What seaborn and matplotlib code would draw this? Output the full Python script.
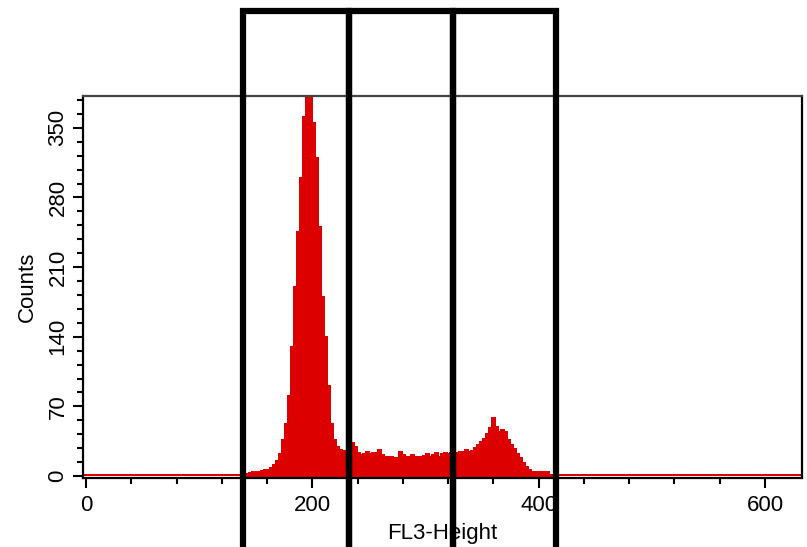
import numpy as np
import pandas as pd
import matplotlib
matplotlib.use('Agg')
import matplotlib.pyplot as plt
from matplotlib.patches import Rectangle
import seaborn as sns

# Histogram channels (FL3-Height)
channel_start = 138.7
channel_width = 2.65
counts = [1, 2, 3, 4, 4, 4, 5, 6, 6, 8,
          11, 15, 22, 36, 52, 80, 130, 190, 245, 300,
          361, 400, 395, 355, 320, 250, 180, 140, 90, 52,
          36, 29, 26, 25, 24, 28, 33, 29, 23, 21,
          22, 24, 22, 23, 23, 26, 21, 19, 19, 19,
          18, 18, 24, 21, 19, 19, 21, 19, 19, 19,
          20, 22, 19, 21, 23, 19, 22, 23, 22, 23,
          23, 23, 24, 24, 26, 24, 25, 28, 31, 34,
          37, 42, 48, 58, 49, 44, 46, 44, 36, 31,
          27, 22, 18, 13, 9, 6, 4, 4, 4, 4,
          4, 4, 1, 1, 1]

# Gate boundaries (three adjacent regions)
gate_edges = [138.7, 232.4, 324.3, 415.3]

x_ticks = [0, 200, 400, 600]
y_ticks = [0, 70, 140, 210, 280, 350]

n = len(counts)
channel_end = channel_start + channel_width * n
df = pd.DataFrame({'fl3': channel_start + channel_width * (np.arange(n) + 0.5),
                   'count': counts})

sns.set_style('ticks')
plt.rcParams['font.family'] = ['Liberation Sans', 'DejaVu Sans']
plt.rcParams['text.color'] = 'black'
plt.rcParams['axes.labelcolor'] = 'black'
plt.rcParams['xtick.color'] = 'black'
plt.rcParams['ytick.color'] = 'black'

fig = plt.figure(figsize=(8.07, 5.47), dpi=100)
ax = fig.add_axes([0.1029, 0.1261, 0.8909, 0.6984])

red = '#dc0000'
sns.histplot(data=df, x='fl3', weights='count', bins=n,
             binrange=(channel_start, channel_end), element='bars', shrink=1,
             fill=True, color=red, alpha=1, linewidth=1.2, edgecolor=red,
             antialiased=False, ax=ax)
ax.axhspan(-0.3, 1.6, color=red, lw=0)

ax.set_xlim(-2.7, 632.7)
ax.set_ylim(-2, 382)
ax.set_xticks(x_ticks)
ax.set_xticks(np.arange(0, 633, 40), minor=True)
ax.set_yticks(y_ticks)
ax.set_yticks(np.arange(0, 382, 14), minor=True)

ax.tick_params(axis='both', which='major', direction='out', length=7.5, width=1.5,
               labelsize=16, color='black', labelcolor='black')
ax.tick_params(axis='both', which='minor', direction='out', length=4, width=1.5,
               color='black')
ax.tick_params(axis='y', labelrotation=90, pad=3)
ax.tick_params(axis='x', pad=5)
for lab in ax.get_yticklabels():
    lab.set_va('center')

for side in ['left', 'bottom', 'right']:
    ax.spines[side].set_linewidth(1.6)
    ax.spines[side].set_color('black')
ax.spines['top'].set_linewidth(1.6)
ax.spines['top'].set_color('#444444')

ax.set_xlabel('FL3-Height', fontsize=16, labelpad=5)
ax.set_ylabel('Counts', fontsize=16, labelpad=7)

# Gate rectangles extending beyond the plotting area
for left, right in zip(gate_edges[:-1], gate_edges[1:]):
    ax.add_patch(Rectangle((left, -90), right - left, 557, fill=False,
                           edgecolor='black', linewidth=4.5, clip_on=False,
                           zorder=5))

fig.savefig('out.png', dpi=100)
